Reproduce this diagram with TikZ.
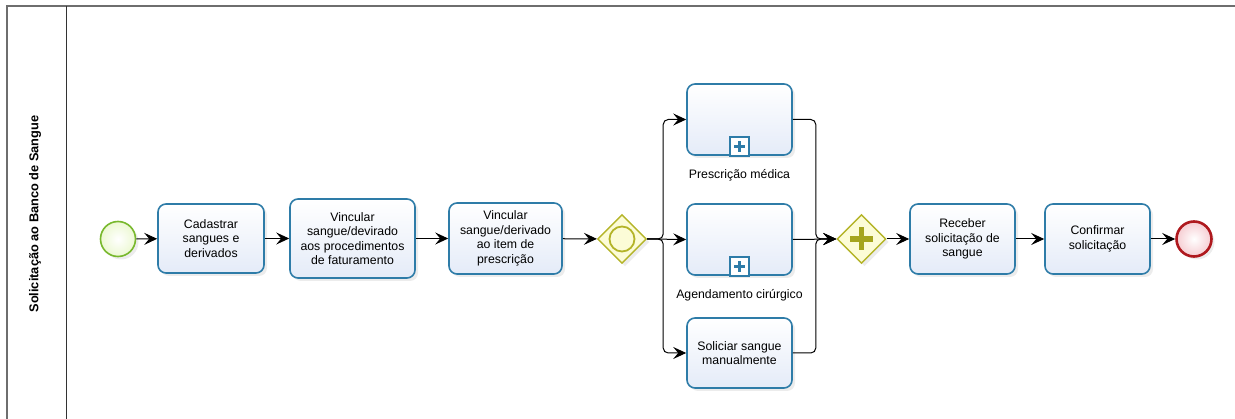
\documentclass[tikz,border=0pt]{standalone}
\usepackage{fontspec}
\setmainfont{Liberation Sans}
\usepackage{tikz}
\usetikzlibrary{positioning}
\usetikzlibrary{shapes.geometric}
\usetikzlibrary{arrows.meta}
\usetikzlibrary{shadows}
\usetikzlibrary{calc}
\definecolor{taskline}{RGB}{46,124,168}
\definecolor{taskfill}{RGB}{228,235,248}
\definecolor{gateline}{RGB}{180,180,40}
\definecolor{gatefill}{RGB}{252,252,215}
\definecolor{gateplus}{RGB}{165,165,30}
\definecolor{startline}{RGB}{120,184,45}
\definecolor{startfill}{RGB}{236,248,210}
\definecolor{endline}{RGB}{175,25,30}
\definecolor{endfill}{RGB}{246,205,210}
\definecolor{laneline}{RGB}{110,110,110}
\def\txt{\fontsize{12.3}{14.5}\selectfont}
\tikzset{
	task/.style={draw=taskline, line width=1.6pt, rounded corners=8pt, top color=white, bottom color=taskfill,
		align=center, font=\txt, inner sep=2pt, drop shadow={opacity=0.15, shadow xshift=3pt, shadow yshift=-3pt}},
	gate/.style={diamond, draw=gateline, line width=1.4pt, fill=gatefill, minimum width=49pt, minimum height=49pt,
		inner sep=0pt, drop shadow={opacity=0.15, shadow xshift=3pt, shadow yshift=-3pt}},
	event/.style={circle, minimum size=35pt, inner sep=0pt, drop shadow={opacity=0.15, shadow xshift=3pt, shadow yshift=-3pt}},
	flow/.style={draw, line width=1pt, rounded corners=5pt, -{Stealth[length=13pt,width=12pt,inset=5pt]}},
	sublabel/.style={font=\txt},
}
% marker of a collapsed subprocess
\def\submark(#1){
	\draw[taskline, line width=1.5pt, fill=white] ($(#1.south)+(-9.5,0)$) rectangle ($(#1.south)+(9.5,-19)$);
	\draw[taskline, line width=3.2pt] ($(#1.south)+(-5.5,-9.5)$) -- ($(#1.south)+(5.5,-9.5)$)
		($(#1.south)+(0,-4)$) -- ($(#1.south)+(0,-15)$);
}
\begin{document}
\begin{tikzpicture}[x=1pt, y=-1pt]
	\useasboundingbox (0,0) rectangle (1235,419);
	% pool and lane
	\draw[laneline, line width=1.6pt] (7,419) -- (7,6) -- (1235,6);
	\draw[black!80, line width=1pt] (66,6) -- (66,419);
	\node[rotate=90, font=\fontsize{12.8}{14}\selectfont\bfseries] (lane) at (35,214) {Solicitação ao Banco de Sangue};

	% flow objects
	\node[event, draw=startline, line width=1.6pt, inner color=white, outer color=startfill] (start) at (118,239) {};
	\node[task, minimum width=106pt, minimum height=69pt] (cad) at (211,238.5) {Cadastrar\\sangues e\\derivados};
	\node[task, minimum width=125pt, minimum height=79pt] (vfat) at (352.5,238.5) {Vincular\\sangue/devirado\\aos procedimentos\\de faturamento};
	\node[task, minimum width=113pt, minimum height=71pt] (vpre) at (505.5,238.5) {Vincular\\sangue/derivado\\ao item de\\prescrição};
	\node[gate] (incl) at (622,239) {};
	\node[circle, draw=gateline, line width=1.8pt, minimum size=25pt, inner sep=0pt] (inclmark) at (incl) {};

	\node[task, minimum width=105pt, minimum height=71pt] (presc) at (739.5,119.5) {};
	\node[sublabel, below=10pt of presc] (presclabel) {Prescrição médica};
	\node[task, minimum width=105pt, minimum height=71pt] (agend) at (739.5,239.5) {};
	\node[sublabel, below=10pt of agend] (agendlabel) {Agendamento cirúrgico};
	\node[task, minimum width=105pt, minimum height=70pt] (manual) at (739.5,353) {Soliciar sangue\\manualmente};
	\submark(presc)
	\submark(agend)

	\node[gate] (par) at (861.5,239) {};
	\draw[gateplus, line width=5.5pt] ($(par)+(-11.5,0)$) -- ($(par)+(11.5,0)$) ($(par)+(0,-11.5)$) -- ($(par)+(0,11.5)$);
	\node[task, minimum width=105pt, minimum height=70pt] (rec) at (962.5,239) {Receber\\solicitação de\\sangue};
	\node[task, minimum width=105pt, minimum height=70pt] (conf) at (1097.5,239) {Confirmar\\solicitação};
	\node[event, draw=endline, line width=2.6pt, inner color=white, outer color=endfill] (stop) at (1194,239) {};

	% sequence flows
	\draw[flow] (start) -- (cad);
	\draw[flow] (cad) -- (vfat);
	\draw[flow] (vfat) -- (vpre);
	\draw[flow] (vpre) -- (incl);
	\draw[flow] (incl.east) -- ++(16,0) |- (presc.west);
	\draw[flow] (incl.east) -- (agend.west);
	\draw[flow] (incl.east) -- ++(16,0) |- (manual.west);
	\draw[flow] (presc.east) -- ++(23,0) |- (par.west);
	\draw[flow] (agend.east) -- (par.west);
	\draw[flow] (manual.east) -- ++(23,0) |- (par.west);
	\draw[flow] (par) -- (rec);
	\draw[flow] (rec) -- (conf);
	\draw[flow] (conf) -- (stop);
\end{tikzpicture}
\end{document}
